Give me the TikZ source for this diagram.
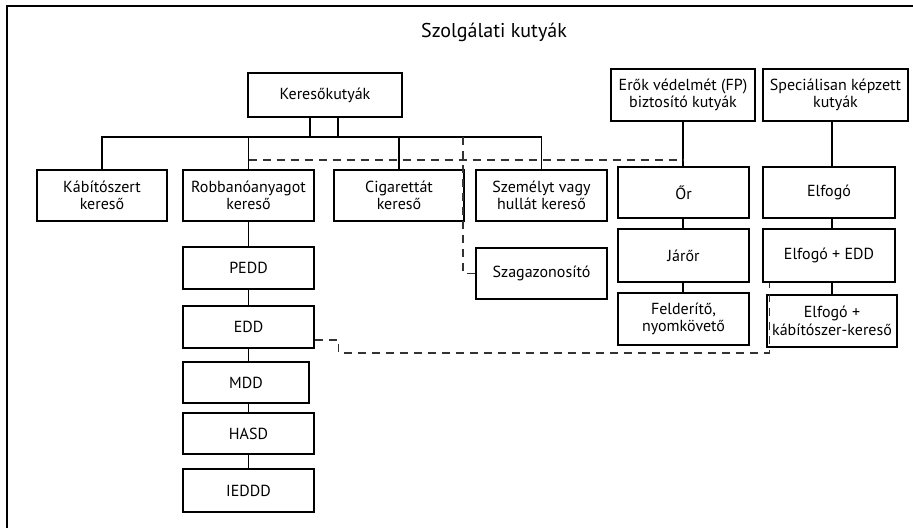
\documentclass[tikz,border=0pt]{standalone}
\usepackage{fontspec}
\setmainfont{PT Sans}
\usetikzlibrary{calc}
\begin{document}
\begin{tikzpicture}[x=1pt,y=-1pt,
  box/.style={draw=black, line width=1.7pt, inner sep=0pt, align=center,
    font=\fontsize{16}{17.5}\selectfont, minimum width=#1},
  box/.default=131,
  conn/.style={line width=1.1pt},
  dashline/.style={line width=1.1pt, dash pattern=on 8pt off 6pt, draw=black!80}]
\useasboundingbox (0,0) rectangle (913,528);
\draw[line width=1.7pt] (913,6) -- (7,6) -- (7,528);
\node (title) at (494,32) {\fontsize{20}{22}\selectfont Szolgálati kutyák};
% top boxes
\node[box=154, minimum height=44] (ker) at (325,95) {Keresőkutyák};
\node[box=144, minimum height=52] (fp) at (683,95) {Erők védelmét (FP)\\biztosító kutyák};
\node[box=145, minimum height=52] (spec) at (835.5,95) {Speciálisan képzett\\kutyák};
% first row
\node[box=130, minimum height=51] (kab) at (102,195.5) {Kábítószert\\kereső};
\node[box=131, minimum height=51] (rob) at (248.5,195.5) {Robbanóanyagot\\kereső};
\node[box=130, minimum height=51] (cig) at (399,195.5) {Cigarettát\\kereső};
\node[box=131, minimum height=51] (szem) at (541.5,195.5) {Személyt vagy\\hullát kereső};
\node[box=131, minimum height=51] (or) at (683.5,192.5) {Őr};
\node[box=132, minimum height=51] (elf) at (829,192.5) {Elfogó};
% right columns
\node[box=131, minimum height=53] (jar) at (683.5,255.5) {Járőr};
\node[box=132, minimum height=53] (elfedd) at (829,255.5) {Elfogó + EDD};
\node[box=131, minimum height=52] (feld) at (683.5,319) {Felderítő,\\nyomkövető};
\node[box=130, minimum height=52] (elfkab) at (832,321) {Elfogó +\\kábítószer-kereső};
\node[box=131, minimum height=51] (szag) at (541.5,273.5) {Szagazonosító};
% explosive chain
\node[box=131, minimum height=42] (pedd) at (248.5,268) {PEDD};
\node[box=131, minimum height=42] (edd) at (248.5,327) {EDD};
\node[box=126, minimum height=41] (mdd) at (246,382.5) {MDD};
\node[box=131, minimum height=41] (hasd) at (248.5,433.5) {HASD};
\node[box=131, minimum height=43] (ieddd) at (248.5,490.5) {IEDDD};
% bus coordinates
\coordinate (bus) at (0,137);
\coordinate (dbus) at (0,160);
\coordinate (dv) at (463,137);
% solid connectors
\draw[conn] ([xshift=-15]ker.south) -- ([xshift=-15]ker.south |- bus);
\draw[conn] ([xshift=13]ker.south) -- ([xshift=13]ker.south |- bus);
\draw[conn] (kab.north) -- (kab.north |- bus) -- (szem.north |- bus) -- (szem.north);
\draw[conn] (rob.north) -- (rob.north |- bus);
\draw[conn] (cig.north) -- (cig.north |- bus);
\draw[conn] (rob.south) -- (pedd.north);
\draw[conn] (pedd.south) -- (edd.north);
\draw[conn] (edd.south) -- (edd.south |- mdd.north);
\draw[conn] (edd.south |- mdd.south) -- (hasd.north);
\draw[conn] (hasd.south) -- (ieddd.north);
\draw[conn] (fp.south) -- (fp.south |- or.north);
\draw[conn] (or.south -| fp.south) -- (jar.north -| fp.south);
\draw[conn] (jar.south -| fp.south) -- (feld.north -| fp.south);
\draw[conn] (spec.south -| elfkab.north) -- (elf.north -| elfkab.north);
\draw[conn] (elf.south -| elfkab.north) -- (elfedd.north -| elfkab.north);
\draw[conn] (elfedd.south -| elfkab.north) -- (elfkab.north);
% dashed connectors
\draw[dashline] (rob.north |- dbus) -- (fp.south |- dbus);
\draw[dashline] (dv) |- (szag.west);
\draw[dashline] ([yshift=-13]edd.east) -- ++(24,0) -- ++(0,13) -| ([xshift=7]elfedd.south west);
\end{tikzpicture}
\end{document}
